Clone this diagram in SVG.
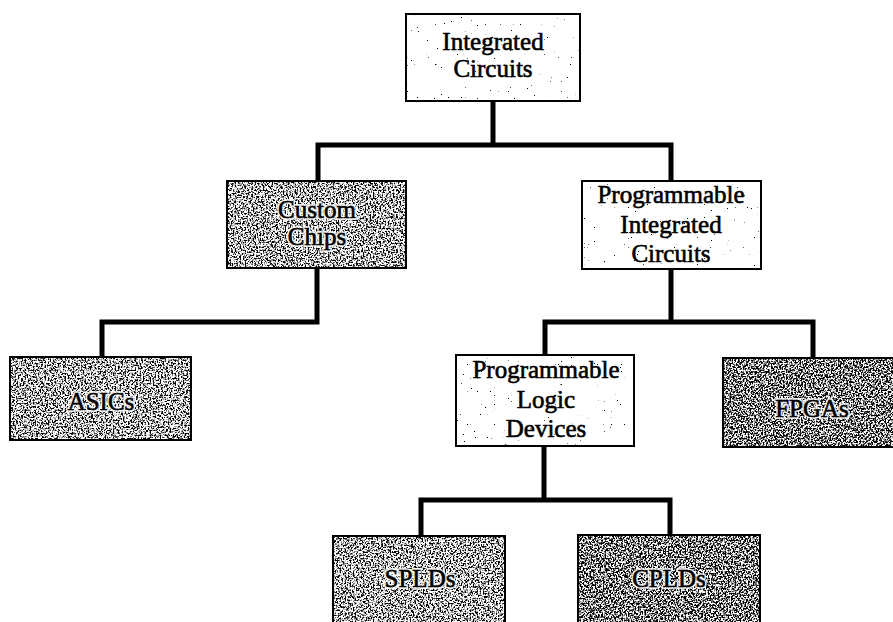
<svg xmlns="http://www.w3.org/2000/svg" width="893" height="622" viewBox="0 0 893 622">
  <style>
    .box { stroke: #000; stroke-width: 2; fill: #ffffff; }
    .lbl { font-family: "Liberation Serif", "Times New Roman", serif; font-size: 25px; fill: #000; stroke: #000; stroke-width: 0.6; text-anchor: middle; }
    .halo { fill: none; stroke: #fff; stroke-width: 4; stroke-linejoin: round; opacity: 0.8; }
    .conn { fill: none; stroke: #000; stroke-width: 5; stroke-linejoin: miter; stroke-linecap: square; }
  </style>
  <defs>
    <filter id="grainDark" x="0" y="0" width="1" height="1" color-interpolation-filters="sRGB">
      <feTurbulence type="fractalNoise" baseFrequency="0.6" numOctaves="2" seed="4"/>
      <feColorMatrix type="matrix" values="0 0 0 0 0  0 0 0 0 0  0 0 0 0 0  6 0 0 0 -2.75"/>
    </filter>
    <filter id="grainDarker" x="0" y="0" width="1" height="1" color-interpolation-filters="sRGB">
      <feTurbulence type="fractalNoise" baseFrequency="0.6" numOctaves="2" seed="9"/>
      <feColorMatrix type="matrix" values="0 0 0 0 0  0 0 0 0 0  0 0 0 0 0  6 0 0 0 -2.5"/>
    </filter>
    <filter id="grainLight" x="0" y="0" width="1" height="1" color-interpolation-filters="sRGB">
      <feTurbulence type="fractalNoise" baseFrequency="0.7" numOctaves="1" seed="2"/>
      <feColorMatrix type="matrix" values="0 0 0 0 0  0 0 0 0 0  0 0 0 0 0  30 0 0 0 -22"/>
    </filter>
  </defs>

  <g id="connectors">
    <path class="conn" d="M493 101 V145 M318 145 H671 M318 145 V181 M671 145 V181"/>
    <path class="conn" d="M317 268 V322 M102 322 H317 M102 322 V357"/>
    <path class="conn" d="M671 269 V322 M545 322 H813 M545 322 V355 M813 322 V358"/>
    <path class="conn" d="M544 446 V500 M421 500 H670 M421 500 V536 M670 500 V535"/>
  </g>

  <g id="integrated-circuits">
    <rect class="box" x="406" y="14" width="174" height="87"/>
    <rect x="407" y="15" width="172" height="85" filter="url(#grainLight)"/>
    <text class="lbl" x="493" y="50">Integrated</text>
    <text class="lbl" x="493" y="77">Circuits</text>
  </g>

  <g id="custom-chips">
    <rect class="box" x="227" y="181" width="179" height="87"/>
    <rect x="228" y="182" width="177" height="85" filter="url(#grainDark)"/>
    <text class="lbl halo" x="317" y="218">Custom</text>
    <text class="lbl halo" x="317" y="245">Chips</text>
    <text class="lbl" x="317" y="218">Custom</text>
    <text class="lbl" x="317" y="245">Chips</text>
  </g>

  <g id="programmable-ics">
    <rect class="box" x="582" y="181" width="179" height="88"/>
    <rect x="583" y="182" width="177" height="86" filter="url(#grainLight)"/>
    <text class="lbl" x="671" y="203">Programmable</text>
    <text class="lbl" x="671" y="233">Integrated</text>
    <text class="lbl" x="671" y="262">Circuits</text>
  </g>

  <g id="asics">
    <rect class="box" x="10" y="357" width="181" height="83"/>
    <rect x="11" y="358" width="179" height="81" filter="url(#grainDark)"/>
    <text class="lbl halo" x="101" y="410">ASICs</text>
    <text class="lbl" x="101" y="410">ASICs</text>
  </g>

  <g id="pld">
    <rect class="box" x="456" y="355" width="178" height="91"/>
    <rect x="457" y="356" width="176" height="89" filter="url(#grainLight)"/>
    <text class="lbl" x="546" y="378">Programmable</text>
    <text class="lbl" x="546" y="408">Logic</text>
    <text class="lbl" x="546" y="437">Devices</text>
  </g>

  <g id="fpgas">
    <rect class="box" x="723" y="358" width="172" height="89"/>
    <rect x="724" y="359" width="170" height="87" filter="url(#grainDarker)"/>
    <text class="lbl halo" x="812" y="417">FPGAs</text>
    <text class="lbl" x="812" y="417">FPGAs</text>
  </g>

  <g id="splds">
    <rect class="box" x="333" y="536" width="172" height="90"/>
    <rect x="334" y="537" width="170" height="88" filter="url(#grainDark)"/>
    <text class="lbl halo" x="420" y="587">SPLDs</text>
    <text class="lbl" x="420" y="587">SPLDs</text>
  </g>

  <g id="cplds">
    <rect class="box" x="578" y="535" width="182" height="91"/>
    <rect x="579" y="536" width="180" height="89" filter="url(#grainDarker)"/>
    <text class="lbl halo" x="669" y="587">CPLDs</text>
    <text class="lbl" x="669" y="587">CPLDs</text>
  </g>
</svg>
